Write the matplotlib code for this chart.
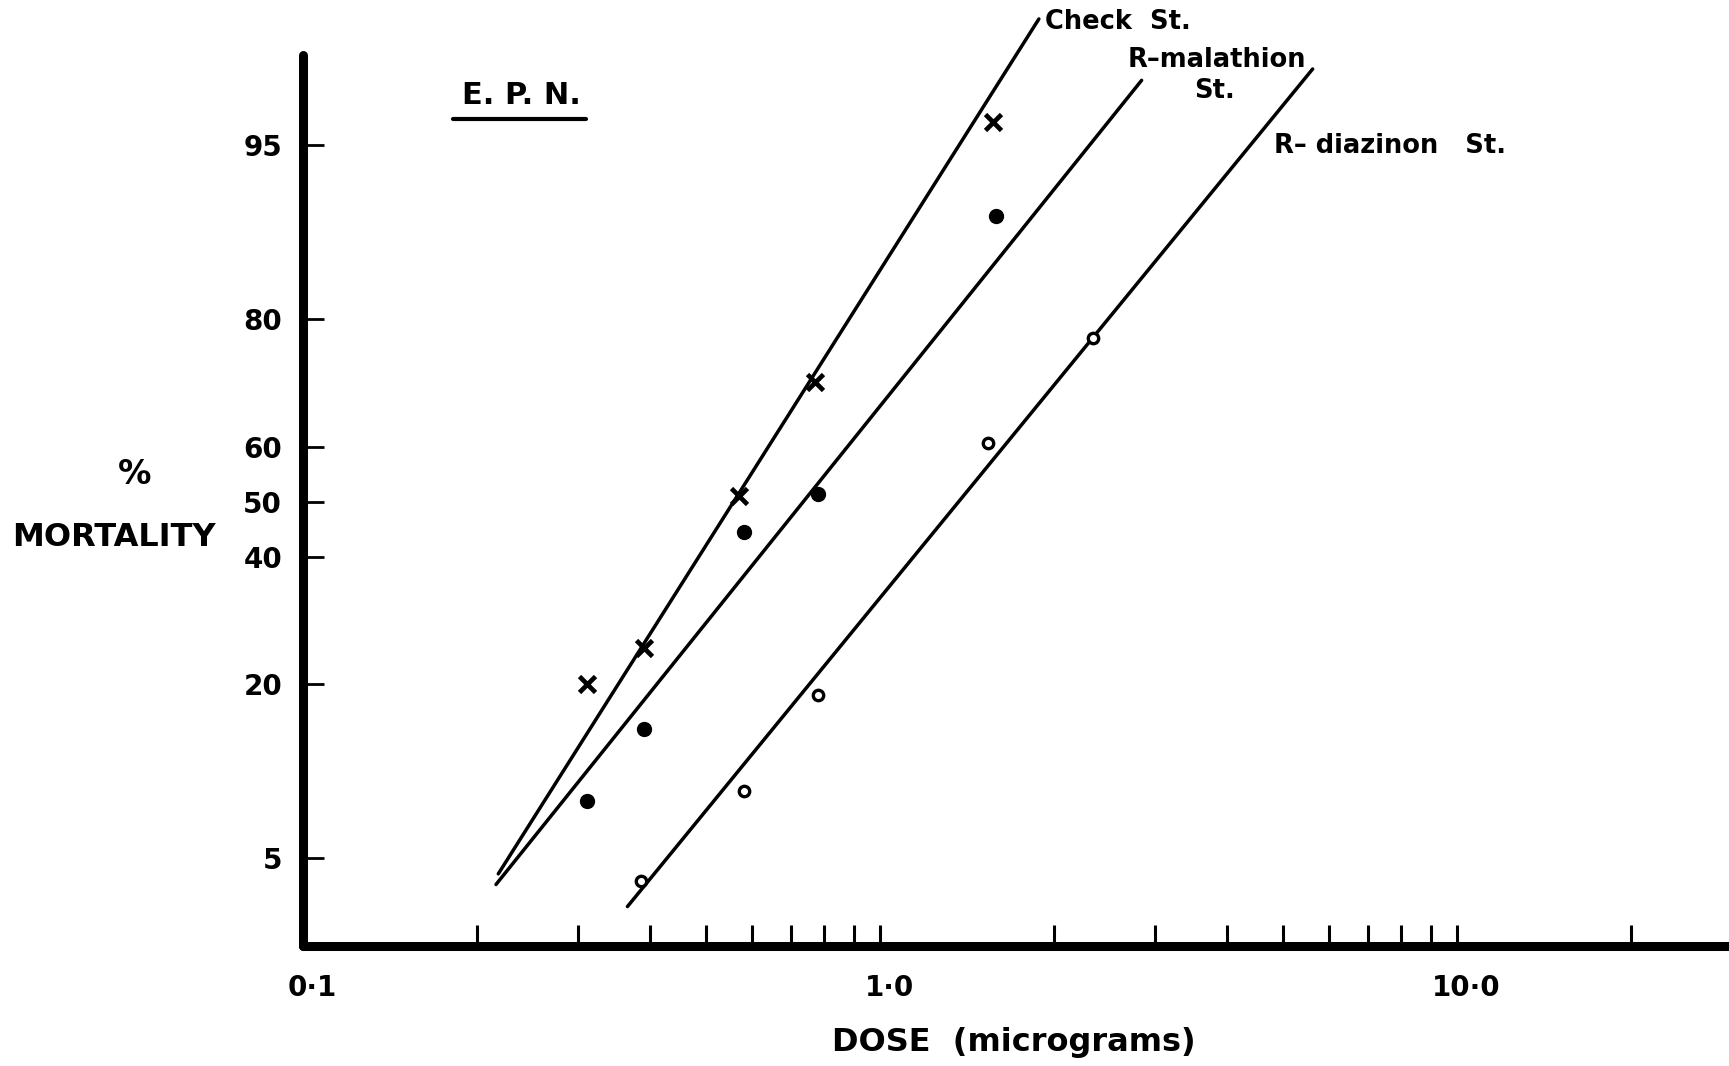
import numpy as np
import matplotlib
matplotlib.use('Agg')
import matplotlib.pyplot as plt
import matplotlib.transforms as mtransforms
from matplotlib.ticker import FixedLocator, NullFormatter
from statistics import NormalDist

plt.rcParams['font.family'] = ['DejaVu Sans']
plt.rcParams['font.weight'] = 'bold'

# dose (micrograms) and % mortality
check_dose = [0.31, 0.39, 0.57, 0.77, 1.57]
check_mort = [20, 25, 51, 71, 96]
mal_dose = [0.31, 0.39, 0.58, 0.78, 1.59]
mal_mort = [8.4, 14.7, 44.5, 51.4, 90.6]
diaz_dose = [0.386, 0.58, 0.78, 1.54, 2.34]
diaz_mort = [4.0, 9.1, 18.6, 60.6, 77.5]

# fitted probit lines (end points)
check_line_dose = [0.218, 1.885]
check_line_mort = [4.3, 98.7]
mal_line_dose = [0.216, 2.84]
mal_line_mort = [3.87, 97.4]
diaz_line_dose = [0.365, 5.62]
diaz_line_mort = [3.09, 97.7]

y_ticks = [5, 20, 40, 50, 60, 80, 95]
x_major = [0.1, 1.0, 10.0]
x_major_labels = ['0\u00b71', '1\u00b70', '10\u00b70']
x_minor = [0.2, 0.3, 0.4, 0.5, 0.6, 0.7, 0.8, 0.9, 2, 3, 4, 5, 6, 7, 8, 9, 20]

nd = NormalDist()


def probit(p):
    p = np.clip(np.asarray(p, dtype=float) / 100.0, 1e-9, 1 - 1e-9)
    return np.vectorize(nd.inv_cdf, otypes=[float])(p)


def inv_probit(z):
    return np.vectorize(nd.cdf, otypes=[float])(np.asarray(z, dtype=float)) * 100.0


W, H = 1729, 1066
fig = plt.figure(figsize=(W / 100, H / 100), dpi=100)
ax = fig.add_axes([303 / W, 1 - 946 / H, 1 - 303 / W, (946 - 55) / H])

ax.set_xscale('log')
ax.set_yscale('function', functions=(probit, inv_probit))
ax.set_xlim(0.1, 29.6)
ax.set_ylim(2.02, 98.03)

lw = 2.5
ax.plot(check_line_dose, check_line_mort, color='black', lw=lw, clip_on=False,
        solid_capstyle='round')
ax.plot(mal_line_dose, mal_line_mort, color='black', lw=lw, clip_on=False,
        solid_capstyle='round')
ax.plot(diaz_line_dose, diaz_line_mort, color='black', lw=lw, clip_on=False,
        solid_capstyle='round')

ax.plot(check_dose, check_mort, 'x', color='black', ms=12, mew=3.4, clip_on=False)
ax.plot(mal_dose, mal_mort, 'o', color='black', ms=10, clip_on=False)
ax.plot(diaz_dose, diaz_mort, 'o', mfc='white', mec='black', ms=7.5, mew=2.4,
        clip_on=False)

# axes styling
for s in ['top', 'right']:
    ax.spines[s].set_visible(False)
for s in ['left', 'bottom']:
    ax.spines[s].set_linewidth(6.5)
    ax.spines[s].set_capstyle('round')

ax.yaxis.set_major_locator(FixedLocator(y_ticks))
ax.yaxis.set_minor_locator(FixedLocator([]))
ax.set_yticklabels([str(t) for t in y_ticks])
ax.tick_params(axis='y', direction='in', length=15, width=2, pad=15,
               labelsize=20)

ax.xaxis.set_major_locator(FixedLocator(x_major))
ax.set_xticklabels(x_major_labels)
ax.xaxis.set_minor_locator(FixedLocator(x_minor))
ax.xaxis.set_minor_formatter(NullFormatter())
ax.tick_params(axis='x', which='both', direction='in', length=15, width=2.2,
               pad=20, labelsize=20)
# hand-lettered labels sit a little right of their ticks
shift = mtransforms.ScaledTranslation(9 / 100, 0, fig.dpi_scale_trans)
for lab in ax.get_xticklabels():
    lab.set_transform(lab.get_transform() + shift)

# text
fig.text(135 / W, 1 - 474 / H, '%', fontsize=24, ha='center', va='center')
fig.text(114 / W, 1 - 537 / H, 'MORTALITY', fontsize=23, ha='center', va='center')
fig.text(1014 / W, 1 - 1042 / H, 'DOSE  (micrograms)', fontsize=23,
         ha='center', va='center')
fig.text(521 / W, 1 - 95 / H, 'E. P. N.', fontsize=22, ha='center', va='center')
fig.add_artist(plt.Line2D([453 / W, 586 / W], [1 - 119 / H, 1 - 119 / H],
                          color='black', lw=3, solid_capstyle='round'))

fig.text(1045 / W, 1 - 22 / H, 'Check  St.', fontsize=18.5, ha='left', va='center')
fig.text(1217 / W, 1 - 60 / H, 'R\u2013malathion', fontsize=18.5, ha='center',
         va='center')
fig.text(1214 / W, 1 - 91 / H, 'St.', fontsize=18.5, ha='center', va='center')
fig.text(1274 / W, 1 - 146 / H, 'R\u2013 diazinon   St.', fontsize=18.5,
         ha='left', va='center')

fig.savefig('out.png', dpi=100)
